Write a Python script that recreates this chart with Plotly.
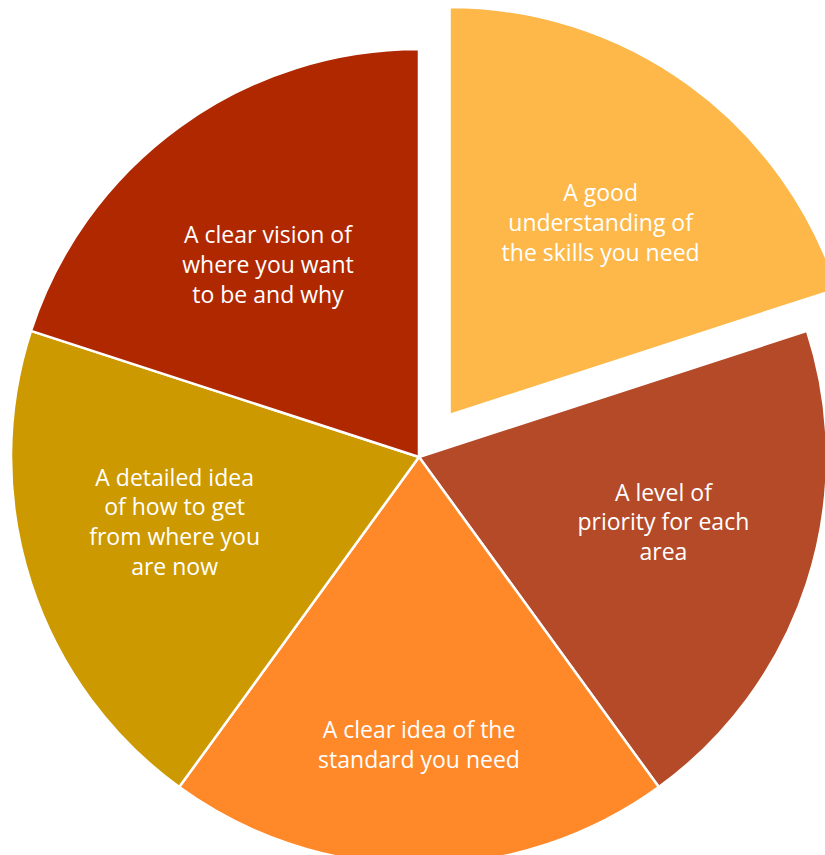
import plotly.graph_objects as go

# ---- data ----
categories = [
    "A good<br>understanding of<br>the skills you need",
    "A level of<br>priority for each<br>area",
    "A clear idea of the<br>standard you need",
    "A detailed idea<br>of how to get<br>from where you<br>are now",
    "A clear vision of<br>where you want<br>to be and why",
]
values = [1, 1, 1, 1, 1]
colors = ["#FDB849", "#B54A28", "#FF8829", "#CC9900", "#B02800"]
pulled_index = 0

# ---- style: vertical nudge of each label, in blank lines (+ down, - up) ----
label_nudge = [1, -1, 2, -1, 1]

# ---- layout geometry (pixels) ----
W, H = 860, 866
R = 408
CX, CY = 419, 457
PULL = 52
DX, DY = PULL * 0.5878, PULL * 0.8090


def domain(cx, cy, r):
    return dict(x=[(cx - r) / W, (cx + r) / W],
                y=[(H - (cy + r)) / H, (H - (cy - r)) / H])


def nudged(text, n):
    pad = "<br>".join(["\u00a0"] * abs(n))
    if n > 0:
        return pad + "<br>" + text
    if n < 0:
        return text + "<br>" + pad
    return text


labels_text = [nudged(t, n) for t, n in zip(categories, label_nudge)]

font = dict(family="Open Sans, Lato, sans-serif", size=23, color="white")

# main pie (pulled slice left empty)
main_colors = ["rgba(0,0,0,0)" if i == pulled_index else c for i, c in enumerate(colors)]
main_text = ["" if i == pulled_index else t for i, t in enumerate(labels_text)]
main_lw = [0 if i == pulled_index else 2.5 for i in range(len(values))]

fig = go.Figure()
fig.add_trace(go.Pie(
    values=values, labels=[f"s{i}" for i in range(len(values))],
    text=main_text, textinfo="text", textposition="inside",
    insidetextorientation="horizontal",
    marker=dict(colors=main_colors, line=dict(color="white", width=main_lw)),
    sort=False, direction="clockwise", rotation=0,
    insidetextfont=font, hoverinfo="skip", showlegend=False,
    domain=domain(CX, CY, R),
))

# pulled slice, drawn as its own pie with an empty remainder
rest = sum(values) - values[pulled_index]
fig.add_trace(go.Pie(
    values=[values[pulled_index], rest], labels=["p", "rest"],
    text=[labels_text[pulled_index], ""], textinfo="text", textposition="inside",
    insidetextorientation="horizontal",
    marker=dict(colors=[colors[pulled_index], "rgba(0,0,0,0)"],
                line=dict(color="white", width=[2.5, 0])),
    sort=False, direction="clockwise", rotation=0,
    insidetextfont=font, hoverinfo="skip", showlegend=False,
    domain=domain(CX + DX, CY - DY, R),
))

fig.update_layout(
    width=W, height=H,
    margin=dict(l=0, r=0, t=0, b=0),
    paper_bgcolor="white", plot_bgcolor="white",
    showlegend=False,
    uniformtext=dict(minsize=23, mode="show"),
)

fig.write_html(
    "out.html",
    config={"displayModeBar": False},
    post_script="document.documentElement.style.overflow='hidden';document.body.style.overflow='hidden';document.body.style.margin='0';",
)
